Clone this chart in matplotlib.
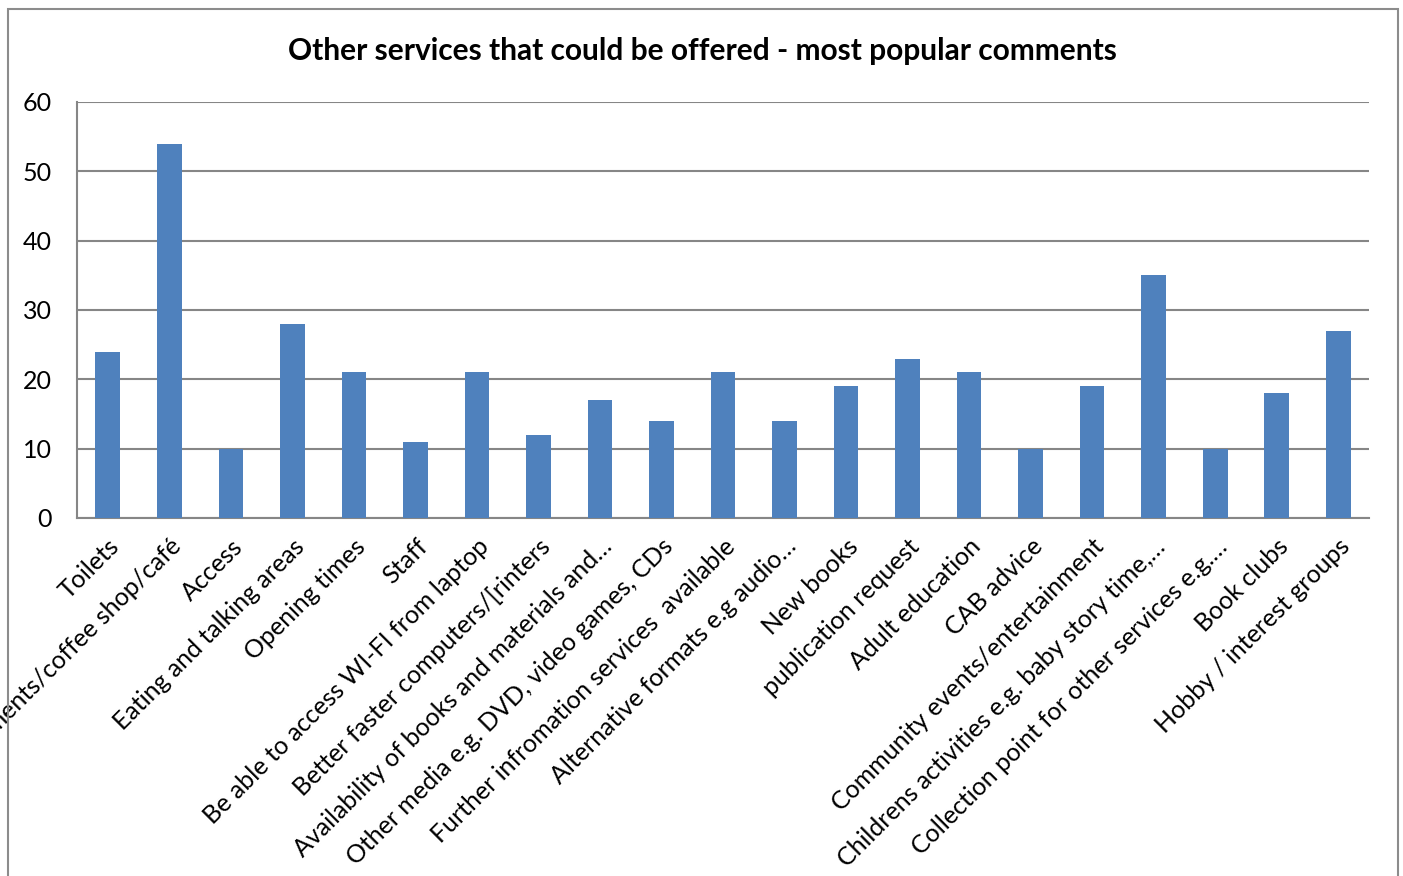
import matplotlib.pyplot as plt
from matplotlib.patches import Rectangle

plt.rcParams['font.family'] = ['Lato', 'DejaVu Sans']

categories = [
    "Toilets",
    "Refreshments/coffee shop/café",
    "Access",
    "Eating and talking areas",
    "Opening times",
    "Staff",
    "Be able to access WI-FI from laptop",
    "Better faster computers/[rinters",
    "Availability of books and materials and\u2026",
    "Other media e.g. DVD, video games, CDs",
    "Further infromation services  available",
    "Alternative formats e.g audio\u2026",
    "New books",
    "publication request",
    "Adult education",
    "CAB advice",
    "Community events/entertainment",
    "Childrens activities e.g. baby story time,\u2026",
    "Collection point for other services e.g.\u2026",
    "Book clubs",
    "Hobby / interest groups",
]
counts = [24, 54, 10, 28, 21, 11, 21, 12, 17, 14, 21,
          14, 19, 23, 21, 10, 19, 35, 10, 18, 27]

fig = plt.figure(figsize=(14.03, 8.76), dpi=100)
ax = fig.add_axes([0.0549, 0.4087, 0.9209, 0.4749])

# chart frame
W, H = 1403, 876
fig.patches.append(Rectangle((8 / W, -0.05), (1398 - 8) / W, 1.05 - 9 / H,
                             transform=fig.transFigure, fill=False,
                             edgecolor='#8c8c8c', linewidth=1.5))

x = range(len(categories))
ax.bar(x, counts, width=0.4, color='#4F81BD', zorder=3)

ax.set_xlim(-0.5, len(categories) - 0.5)
ax.set_ylim(0, 60)
ax.set_yticks(range(0, 61, 10))
ax.yaxis.grid(True, color='#868686', linewidth=1.5, zorder=0)
ax.set_axisbelow(True)

for side in ['top', 'right']:
    ax.spines[side].set_visible(False)
for side in ['left', 'bottom']:
    ax.spines[side].set_color('#868686')
    ax.spines[side].set_linewidth(1.5)

ax.tick_params(axis='y', length=0, pad=18, labelsize=18)
ax.tick_params(axis='x', length=0, pad=12)
ax.set_xticks(list(x))
ax.set_xticklabels(categories, rotation=45, ha='right',
                   rotation_mode='anchor', fontsize=18)

fig.text(0.501, 0.942, "Other services that could be offered - most popular comments",
         ha='center', va='center', fontsize=21.5, fontweight='bold')

fig.savefig('out.png', dpi=100)
